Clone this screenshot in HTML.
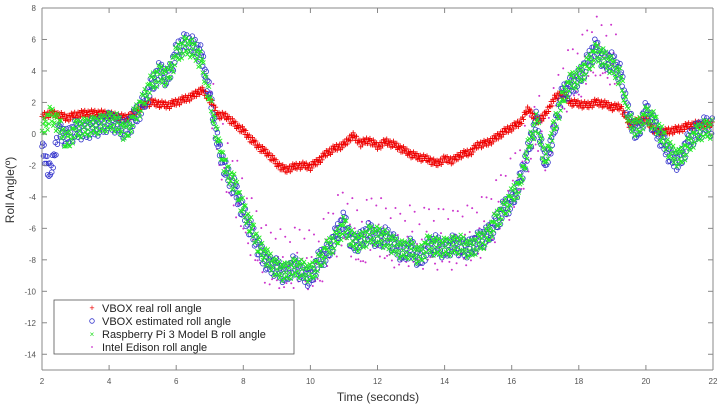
<!DOCTYPE html>
<html><head><meta charset="utf-8"><style>
body{margin:0;background:#fff;}
svg{display:block;font-family:"Liberation Sans",sans-serif;}
</style></head><body>
<svg id="chart" width="725" height="410">
<rect x="0" y="0" width="725" height="410" fill="#fff"/>
<g id="marks"></g>
<g id="axes"></g>
<g>
<rect x="54" y="300" width="240" height="54" fill="#fff" stroke="#555" stroke-width="0.8"/>
<g><text x="92" y="311" font-size="9" fill="#e00" text-anchor="middle">+</text><text x="102" y="312" font-size="11" fill="#222">VBOX real roll angle</text></g>
<g><circle cx="92" cy="321" r="2.3" fill="none" stroke="#33c" stroke-width="0.8"/><text x="102" y="325" font-size="11" fill="#222">VBOX  estimated roll angle</text></g>
<g><text x="92" y="337" font-size="8" fill="#2d2" text-anchor="middle">×</text><text x="102" y="338" font-size="11" fill="#222">Raspberry Pi 3 Model B roll angle</text></g>
<g><circle cx="92" cy="347" r="0.9" fill="#c3c"/><text x="102" y="351" font-size="11" fill="#222">Intel Edison roll angle</text></g>
</g>
<text x="378" y="401" font-size="12" fill="#333" text-anchor="middle">Time (seconds)</text>
<text transform="translate(14,190) rotate(-90)" font-size="12" fill="#333" text-anchor="middle">Roll Angle(º)</text>
</svg>
<script>
const xTicks=[2,4,6,8,10,12,14,16,18,20,22];
const yTicks=[8,6,4,2,0,-2,-4,-6,-8,-10,-12,-14];
const times=[];for(let i=0;i<=80;i++)times.push(2+0.25*i);
const realRoll=[1.1,1.3,1.2,1.0,1.2,1.3,1.3,1.3,1.2,1.1,1.0,1.3,1.8,2.0,1.9,1.8,2.0,2.2,2.4,2.8,2.2,1.2,1.1,0.6,0.2,-0.4,-0.9,-1.3,-1.9,-2.3,-2.1,-2.0,-2.1,-1.7,-1.2,-0.9,-0.7,-0.1,-0.6,-0.4,-0.8,-0.5,-0.7,-1.0,-1.3,-1.5,-1.6,-1.9,-1.6,-1.7,-1.3,-1.2,-0.7,-0.6,-0.3,0.1,0.4,0.7,1.6,0.8,1.2,2.2,2.6,2.0,1.9,1.8,2.0,1.9,1.7,1.7,0.6,0.8,0.9,0.2,0.1,0.2,0.3,0.5,0.6,0.6,0.6];
const estRoll=[-0.8,-2.6,0.2,-0.3,0.3,0.2,0.4,0.5,0.8,0.6,0.2,1.0,1.8,3.0,4.0,3.5,5.2,5.8,5.6,5.0,2.5,-0.8,-2.5,-3.5,-5.0,-6.2,-7.5,-8.3,-8.5,-9.0,-8.3,-8.8,-9.2,-8.0,-7.6,-6.5,-5.5,-7.0,-6.8,-6.2,-6.7,-6.5,-7.0,-7.6,-7.2,-8.0,-7.2,-7.0,-7.4,-7.0,-7.2,-7.3,-6.8,-6.5,-5.8,-4.8,-4.3,-3.0,-1.0,1.0,-2.0,0.0,2.5,3.0,3.5,4.5,5.5,4.6,4.6,3.8,1.0,0.0,1.5,0.5,-0.5,-1.5,-1.8,-0.5,0.1,0.5,0.4];
const piRoll=[0.2,1.2,0.6,-0.6,0.3,0.4,0.5,0.6,0.8,0.7,0.0,1.1,2.0,3.2,3.8,3.6,5.0,5.6,5.4,4.6,2.2,-0.5,-2.4,-3.2,-4.8,-6.0,-7.3,-8.0,-8.6,-8.8,-8.5,-8.6,-8.9,-8.2,-7.3,-6.8,-5.8,-6.8,-6.9,-6.4,-6.5,-6.7,-7.1,-7.4,-7.3,-7.8,-7.0,-7.2,-7.2,-7.1,-7.0,-7.4,-6.9,-6.6,-5.6,-4.9,-4.0,-3.2,-0.8,0.8,-1.8,0.3,2.2,3.3,3.6,4.3,5.2,4.8,4.3,3.5,0.8,0.3,1.2,0.8,-0.2,-1.2,-1.6,-0.8,0.0,0.3,0.3];
const edisonRoll=[0,0,0,0,0,0,0.3,0.4,0.6,0.5,0.2,1.0,1.8,3.0,3.8,3.5,5.0,5.5,5.3,4.5,2.2,-0.8,-2.7,-3.8,-5.3,-6.6,-7.6,-8.6,-8.4,-8.8,-8.5,-8.3,-8.7,-8.6,-7.4,-6.6,-5.9,-6.6,-7.5,-6.4,-6.3,-7.0,-7.2,-7.4,-7.0,-7.5,-7.0,-7.4,-7.0,-7.4,-7.0,-7.1,-6.7,-6.3,-5.6,-4.6,-4.0,-2.8,-1.4,0.5,-1.6,0.4,2.3,3.0,3.4,4.3,5.0,4.5,4.4,3.6,1.0,0.2,1.3,0.6,-0.3,-1.2,-1.5,-0.6,0.1,0.4,0.4];
const X0=42,X1=713,Y0=8,Y1=370;
function xs(t){return X0+(t-2)/20*(X1-X0);}
function ys(v){return Y0+(8-v)/23*(Y1-Y0);}
const NS='http://www.w3.org/2000/svg';
const marks=document.getElementById('marks');
const axes=document.getElementById('axes');
const jit=[0.0,0.6,-0.5,0.9,-0.8,0.25,-0.3,0.7,-1.0,0.45,-0.65,1.0];
function series(vals,name,kind,spread,per){
  const g=document.createElementNS(NS,'g');
  
  
  marks.appendChild(g);
  let k=0;
  for(let i=0;i<vals.length-1;i++){
    if(kind==='dot'&&(i<20||i>68))continue;
    for(let j=0;j<per;j++){
      const f=j/per;
      const t=times[i]+(times[i+1]-times[i])*f;
      const v=vals[i]+(vals[i+1]-vals[i])*f+jit[k%12]*spread*(kind==='dot'?(1+(k%4)*0.6):1);
      k++;
      const x=xs(t),y=ys(v);
      let el;
      if(kind==='plus'){el=document.createElementNS(NS,'path');el.setAttribute('d',`M${x-2.5},${y}h5M${x},${y-2.5}v5`);el.setAttribute('stroke','#e00');el.setAttribute('stroke-width','0.9');}
      else if(kind==='circ'){el=document.createElementNS(NS,'circle');el.setAttribute('cx',x);el.setAttribute('cy',y);el.setAttribute('r',2.3);el.setAttribute('fill','none');el.setAttribute('stroke','#33c');el.setAttribute('stroke-width','0.8');}
      else if(kind==='x'){el=document.createElementNS(NS,'path');el.setAttribute('d',`M${x-2},${y-2}l4,4M${x-2},${y+2}l4,-4`);el.setAttribute('stroke','#2e2');el.setAttribute('stroke-width','0.9');}
      else{el=document.createElementNS(NS,'circle');el.setAttribute('cx',x);el.setAttribute('cy',y);el.setAttribute('r',1);el.setAttribute('fill','#c3c');}
      
      
      g.appendChild(el);
    }
  }
}
series(edisonRoll,'intel-edison-series','dot',0.9,7);
series(realRoll,'vbox-real-series','plus',0.22,10);
series(estRoll,'vbox-estimated-series','circ',0.6,12);
series(piRoll,'raspberry-pi-series','x',0.6,12);
function line(x1,y1,x2,y2,name){const l=document.createElementNS(NS,'line');l.setAttribute('x1',x1);l.setAttribute('y1',y1);l.setAttribute('x2',x2);l.setAttribute('y2',y2);l.setAttribute('stroke','#888');l.setAttribute('stroke-width','1');axes.appendChild(l);}
line(X0,Y0,X0,Y1,'y-axis');line(X0,Y1,X1,Y1,'x-axis');line(X0,Y0,X1,Y0,'top-border');line(X1,Y0,X1,Y1,'right-border');
xTicks.forEach(t=>{const x=xs(t);line(x,Y1,x,Y1-5,'x-tick');line(x,Y0,x,Y0+5,'x-tick-top');
  const tx=document.createElementNS(NS,'text');tx.setAttribute('x',x);tx.setAttribute('y',Y1+14);tx.setAttribute('font-size','8');tx.setAttribute('fill','#555');tx.setAttribute('text-anchor','middle');tx.textContent=t;
  
  
  axes.appendChild(tx);});
yTicks.forEach(v=>{const y=ys(v);line(X0,y,X0+5,y,'y-tick');line(X1,y,X1-5,y,'y-tick-right');
  const tx=document.createElementNS(NS,'text');tx.setAttribute('x',X0-6);tx.setAttribute('y',y+3);tx.setAttribute('font-size','8');tx.setAttribute('fill','#555');tx.setAttribute('text-anchor','end');tx.textContent=v;
  
  
  axes.appendChild(tx);});
</script>
</body></html>
